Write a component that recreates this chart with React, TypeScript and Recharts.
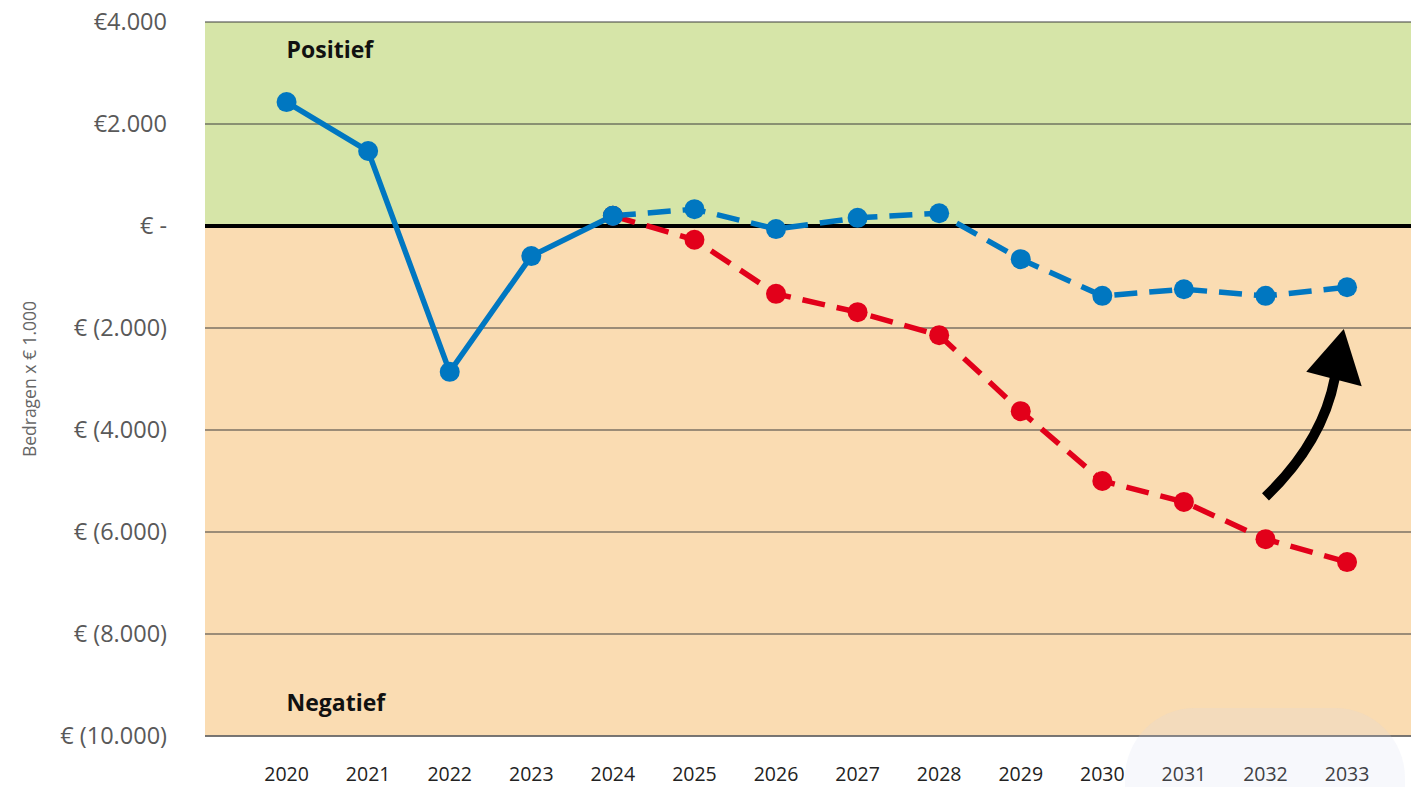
import React from 'react';
import {
  LineChart,
  Line,
  XAxis,
  YAxis,
  CartesianGrid,
  ReferenceLine,
  ReferenceDot,
  Customized,
} from 'recharts';

const years = [2020, 2021, 2022, 2023, 2024, 2025, 2026, 2027, 2028, 2029, 2030, 2031, 2032, 2033];
const actual = [2430, 1470, -2860, -590, 200, null, null, null, null, null, null, null, null, null];
const forecastBlue = [null, null, null, null, 200, 330, -60, 160, 250, -650, -1370, -1240, -1370, -1200];
const forecastRed = [null, null, null, null, 200, -270, -1330, -1690, -2140, -3630, -5000, -5410, -6140, -6590];
const yTicks = [-10000, -8000, -6000, -4000, -2000, 0, 2000, 4000];

const data = years.map((year, i) => ({
  year,
  actual: actual[i],
  blue: forecastBlue[i],
  red: forecastRed[i],
}));

const W = 1411;
const H = 787;
const M_TOP = 22;
const Y_W = 205;
const X_H = 51;
const X_DOMAIN: [number, number] = [2019, 2033.784];
const Y_DOMAIN: [number, number] = [-10000, 4000];

const FONT = '"Open Sans", "Noto Sans", sans-serif';
const BLUE = '#0077c1';
const RED = '#e2001a';
const GREEN_BG = '#d6e5a8';
const ORANGE_BG = '#fadcb2';

// arrow annotation in data coordinates
const arrowStart = { x: 2032.0, y: -5310 };
const arrowCtrl = { x: 2032.7, y: -4240 };
const arrowBase = { x: 2032.85, y: -2980 };
const arrowTip = { x: 2032.96, y: -2020 };
const arrowLeft = { x: 2032.5, y: -2860 };
const arrowRight = { x: 2033.18, y: -3140 };

const plotW = W - Y_W;
const plotH = H - M_TOP - X_H;
const px = (v: number) => Y_W + ((v - X_DOMAIN[0]) / (X_DOMAIN[1] - X_DOMAIN[0])) * plotW;
const py = (v: number) => M_TOP + ((Y_DOMAIN[1] - v) / (Y_DOMAIN[1] - Y_DOMAIN[0])) * plotH;

const fmtY = (v: number) => {
  if (v === 0) return '€ -';
  const s = Math.abs(v).toLocaleString('de-DE');
  return v > 0 ? `€${s}` : `€ (${s})`;
};

const Arrow = () => (
  <g>
    <path
      d={`M${px(arrowStart.x)},${py(arrowStart.y)} Q${px(arrowCtrl.x)},${py(arrowCtrl.y)} ${px(arrowBase.x)},${py(arrowBase.y)}`}
      stroke="#000"
      strokeWidth={10}
      fill="none"
    />
    <polygon
      points={`${px(arrowLeft.x)},${py(arrowLeft.y)} ${px(arrowTip.x)},${py(arrowTip.y)} ${px(arrowRight.x)},${py(arrowRight.y)}`}
      fill="#000"
    />
  </g>
);

const YTitle = (props: any) => {
  const vb = props.viewBox || { x: 0, y: M_TOP, width: Y_W, height: plotH };
  const cx = vb.x + 29;
  const cy = vb.y + vb.height / 2;
  return (
    <text
      x={cx}
      y={cy}
      transform={`rotate(-90 ${cx} ${cy})`}
      textAnchor="middle"
      dominantBaseline="central"
      fill="#666"
      fontSize={17.5}
      fontFamily={FONT}
    >
      Bedragen x € 1.000
    </text>
  );
};

export default function App() {
  return (
    <div style={{ position: 'absolute', left: 0, top: 0, width: W, height: H, background: '#fff' }}>
      <LineChart
        width={W}
        height={H}
        data={data}
        margin={{ top: M_TOP, right: 0, bottom: 0, left: 0 }}
      >
        <CartesianGrid
          vertical={false}
          stroke="#3d3d3d"
          strokeWidth={1}
          horizontalFill={[GREEN_BG, GREEN_BG, ORANGE_BG, ORANGE_BG, ORANGE_BG, ORANGE_BG, ORANGE_BG]}
          fillOpacity={1}
        />
        <XAxis
          type="number"
          dataKey="year"
          domain={X_DOMAIN}
          ticks={years}
          allowDataOverflow
          tickFormatter={(v: number) => String(v)}
          height={X_H}
          tickLine={false}
          tickSize={0}
          tickMargin={31}
          axisLine={{ stroke: '#6b6b6b', strokeWidth: 1.5 }}
          tick={{ fill: '#222', fontSize: 19.5, fontFamily: FONT }}
        />
        <YAxis
          type="number"
          domain={Y_DOMAIN}
          ticks={yTicks}
          width={Y_W}
          tickFormatter={fmtY}
          tickLine={false}
          axisLine={false}
          tickSize={0}
          tickMargin={38}
          tick={{ fill: '#595959', fontSize: 23.5, fontFamily: FONT }}
          label={{ content: YTitle } as any}
        />
        <ReferenceLine y={0} stroke="#000" strokeWidth={4} />
        <ReferenceDot
          x={2020}
          y={3450}
          r={0}
          fill="none"
          stroke="none"
          label={{ value: 'Positief', position: 'right', offset: 0, fill: '#111', fontSize: 23, fontWeight: 700, fontFamily: FONT }}
        />
        <ReferenceDot
          x={2020}
          y={-9350}
          r={0}
          fill="none"
          stroke="none"
          label={{ value: 'Negatief', position: 'right', offset: 0, fill: '#111', fontSize: 23, fontWeight: 700, fontFamily: FONT }}
        />
        <Line
          dataKey="red"
          stroke={RED}
          strokeWidth={5.5}
          strokeDasharray="23 12"
          dot={{ r: 10, fill: RED, stroke: 'none', strokeDasharray: '' }}
          activeDot={false}
          isAnimationActive={false}
        />
        <Line
          dataKey="blue"
          stroke={BLUE}
          strokeWidth={5.5}
          strokeDasharray="23 12"
          dot={{ r: 10, fill: BLUE, stroke: 'none', strokeDasharray: '' }}
          activeDot={false}
          isAnimationActive={false}
        />
        <Line
          dataKey="actual"
          stroke={BLUE}
          strokeWidth={5.5}
          dot={{ r: 10, fill: BLUE, stroke: 'none' }}
          activeDot={false}
          isAnimationActive={false}
        />
        <Customized component={Arrow} />
      </LineChart>
      <div
        style={{
          position: 'absolute',
          left: 1125,
          top: 708,
          width: 280,
          height: H - 708,
          borderRadius: '70px 70px 0 0',
          background: 'rgba(205, 215, 235, 0.17)',
          pointerEvents: 'none',
        }}
      />
    </div>
  );
}
